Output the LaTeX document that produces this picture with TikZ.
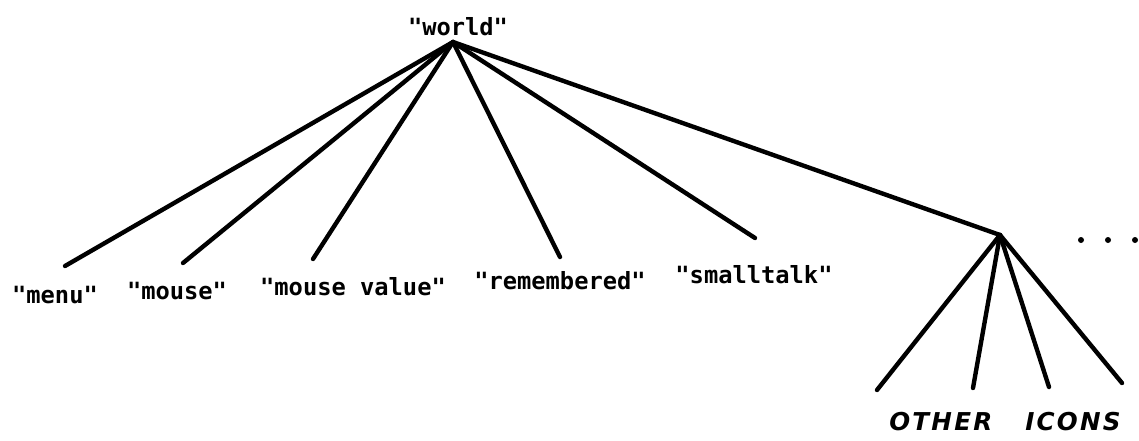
\documentclass[tikz,border=0pt]{standalone}
\usepackage{fontspec}
\newfontfamily\plotfont{DejaVu Sans Mono}
\newfontfamily\handfont[LetterSpace=9]{DejaVu Sans}
\begin{document}
\begin{tikzpicture}[x=0.02cm,y=-0.02cm,
  edge/.style={line width=2.5pt,line cap=round},
  lbl/.style={font=\plotfont\bfseries\fontsize{13.5}{15}\selectfont,inner sep=0pt,anchor=base},
  hand/.style={font=\handfont\bfseries\itshape\fontsize{14}{16}\selectfont,inner sep=0pt,anchor=base west}]
\useasboundingbox (0,0) rectangle (1139,440);
% nodes
\coordinate (root) at (453,42);
\node[lbl] (worldlbl) at (458,35) {"world"};
\coordinate (menu) at (65,266);
\coordinate (mouse) at (183,263);
\coordinate (mval) at (313,259);
\coordinate (remem) at (560,257);
\coordinate (small) at (755,238);
\coordinate (other) at (1000,235);
\coordinate (o1) at (877,390);
\coordinate (o2) at (973,388);
\coordinate (o3) at (1049,387);
\coordinate (o4) at (1122,383);
% labels
\node[lbl] (menulbl) at (55,303) {"menu"};
\node[lbl] (mouselbl) at (177,299) {"mouse"};
\node[lbl] (mvallbl) at (353,295) {"mouse value"};
\node[lbl] (rememlbl) at (560,289) {"remembered"};
\node[lbl] (smalllbl) at (754,283) {"smalltalk"};
\node[hand] (otherlbl) at (889,430) {OTHER};
\node[hand] (iconslbl) at (1025,430) {ICONS};
% edges
\foreach \t in {menu,mouse,mval,remem,small,other}
  \draw[edge] (root) -- (\t);
\foreach \t in {o1,o2,o3,o4}
  \draw[edge] (other) -- (\t);
% ellipsis dots
\foreach \x [count=\i] in {1081,1108,1135}
  \fill (\x,240) circle (3) coordinate (dot\i);
\end{tikzpicture}
\end{document}
